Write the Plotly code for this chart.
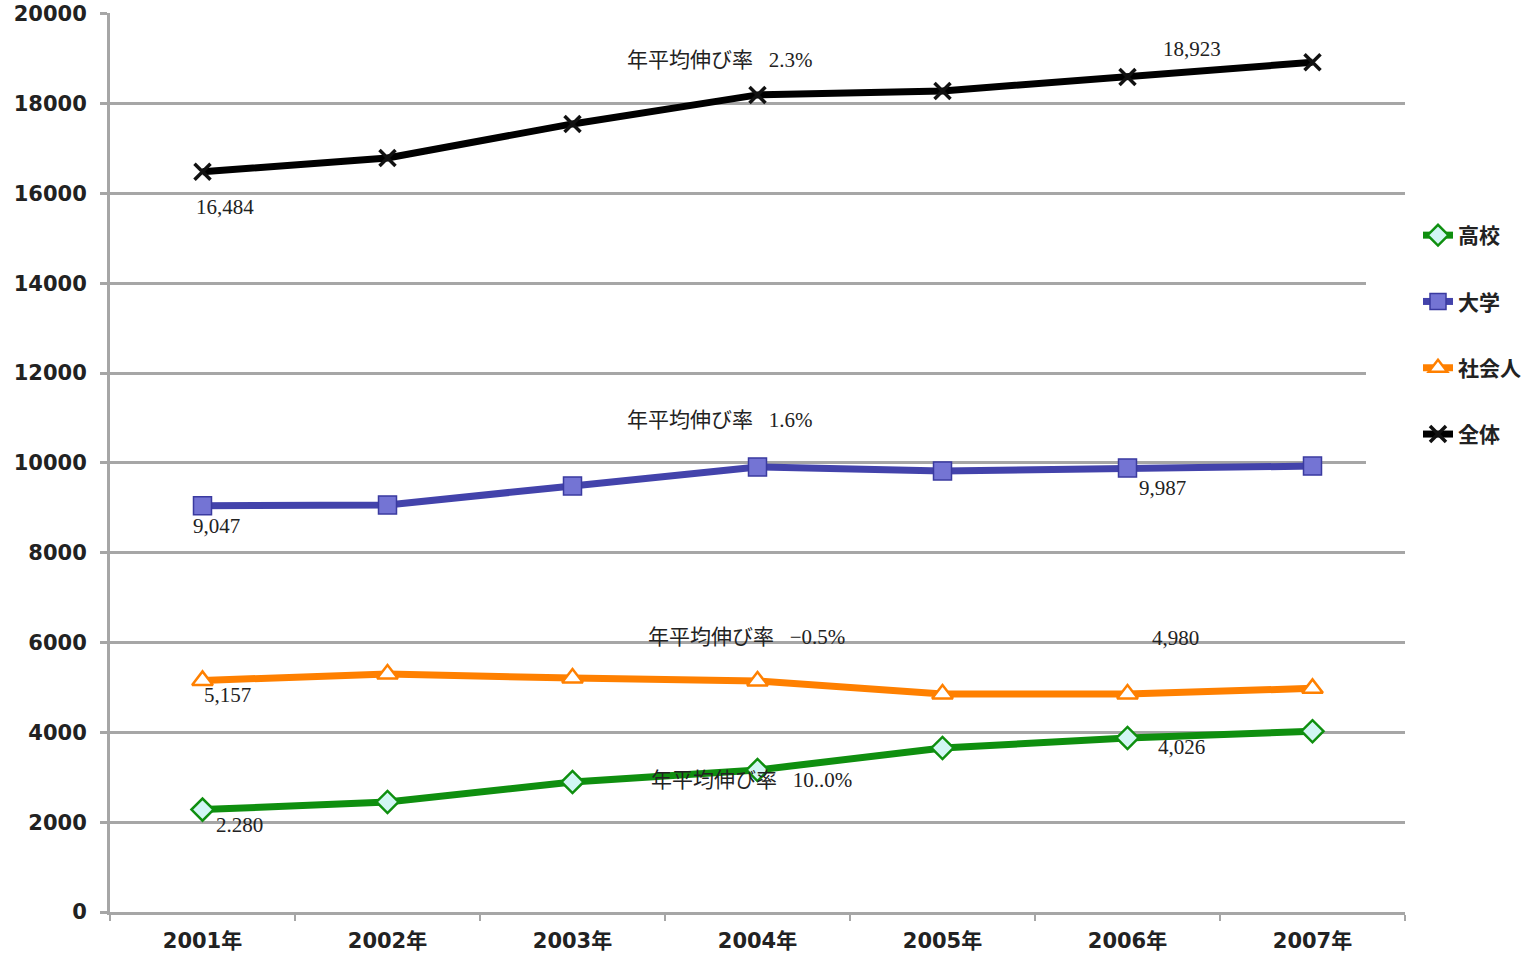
import plotly.graph_objects as go

years = ["2001年", "2002年", "2003年", "2004年", "2005年", "2006年", "2007年"]
koko = [2280, 2450, 2895, 3163, 3653, 3875, 4026]
daigaku = [9047, 9065, 9488, 9911, 9822, 9889, 9930]
shakaijin = [5157, 5300, 5210, 5145, 4855, 4855, 4980]
zentai = [16484, 16793, 17550, 18196, 18285, 18597, 18923]

y_ticks = [0, 2000, 4000, 6000, 8000, 10000, 12000, 14000, 16000, 18000, 20000]

SP = "\u00a0\u00a0\u00a0"
# annotation texts with (x category index, y value)
notes = [
    ("年平均伸び率" + SP + "2.3%", 2.795, 18976),
    ("16,484", 0.119, 15702),
    ("18,923", 5.346, 19220),
    ("年平均伸び率" + SP + "1.6%", 2.795, 10958),
    ("9,047", 0.076, 8597),
    ("9,987", 5.19, 9443),
    ("年平均伸び率" + SP + "−0.5%", 2.94, 6125),
    ("4,980", 5.26, 6102),
    ("5,157", 0.135, 4833),
    ("年平均伸び率" + SP + "10..0%", 2.968, 2940),
    ("2.280", 0.2, 1938),
    ("4,026", 5.29, 3675),
]

fig = go.Figure()

fig.add_trace(go.Scatter(
    x=years, y=koko, name="高校", mode="lines+markers", legendgroup="g0",
    line=dict(color="#0f8f0f", width=7),
    marker=dict(symbol="diamond", size=17, color="#d2f6f4",
                line=dict(color="#0f8f0f", width=2.5)),
))
fig.add_trace(go.Scatter(
    x=years, y=daigaku, name="大学", mode="lines+markers", legendgroup="g1",
    line=dict(color="#4343ab", width=7),
    marker=dict(symbol="square", size=18, color="#7474d4",
                line=dict(color="#3a3aa0", width=1.5)),
))
fig.add_trace(go.Scatter(
    x=years, y=shakaijin, name="社会人", mode="lines+markers", legendgroup="g2",
    line=dict(color="#ff8000", width=7),
    marker=dict(symbol="triangle-up", size=18, color="#ffffff",
                line=dict(color="#ff8000", width=2.5)),
))
fig.add_trace(go.Scatter(
    x=years, y=zentai, name="全体", mode="lines+markers", legendgroup="g3",
    line=dict(color="#000000", width=7),
    marker=dict(symbol="x-thin", size=16, color="#000000",
                line=dict(color="#111111", width=3.5)),
))

for text, xv, yv in notes:
    fig.add_annotation(
        x=xv, y=yv, xref="x", yref="y", text=text, showarrow=False,
        font=dict(family="Liberation Serif, Noto Sans CJK JP", size=21, color="#222222"),
    )

YMAX = 20020
TOP = 13
H = 912 - TOP

# white patch where the legend area hides gridlines
fig.add_shape(type="rect", xref="paper", yref="paper",
              x0=(1366 - 110) / 1295, x1=1.0,
              y0=1 - (470 - TOP) / H, y1=1 - (210 - TOP) / H,
              fillcolor="white", line=dict(width=0), layer="above")

fig.update_layout(
    width=1539, height=957,
    margin=dict(l=110, r=134, t=TOP, b=45, autoexpand=False),
    paper_bgcolor="white", plot_bgcolor="white",
    showlegend=True,
    legend=dict(
        x=(1418 - 110) / 1295, xanchor="left",
        y=1 - (215 - TOP) / H, yanchor="top",
        font=dict(family="Noto Sans CJK JP", size=21, color="#222222", weight="bold"),
        tracegroupgap=36, bgcolor="rgba(0,0,0,0)",
        traceorder="grouped",
    ),
    font=dict(family="Noto Sans CJK JP", color="#222222"),
)

tick_font = dict(family="DejaVu Sans, Noto Sans CJK JP", size=21, color="#222222", weight="bold")

fig.update_xaxes(
    type="category", showgrid=False, showline=True, linecolor="#a6a6a6", linewidth=3,
    ticks="outside", tickson="boundaries", ticklen=6, tickwidth=2, tickcolor="#a6a6a6",
    tickfont=tick_font, automargin=False,
    ticklabelstandoff=8,
    range=[-0.5, 6.5],
)
fig.update_yaxes(
    range=[0, YMAX], tickvals=y_ticks, ticktext=[str(v) for v in y_ticks],
    showgrid=True, gridcolor="#a6a6a6", gridwidth=3,
    showline=True, linecolor="#a6a6a6", linewidth=3, zeroline=False,
    ticks="outside", ticklen=7, tickwidth=3, tickcolor="#a6a6a6",
    tickfont=tick_font, automargin=False,
    ticklabelstandoff=9,
)

fig.write_html("out.html")
